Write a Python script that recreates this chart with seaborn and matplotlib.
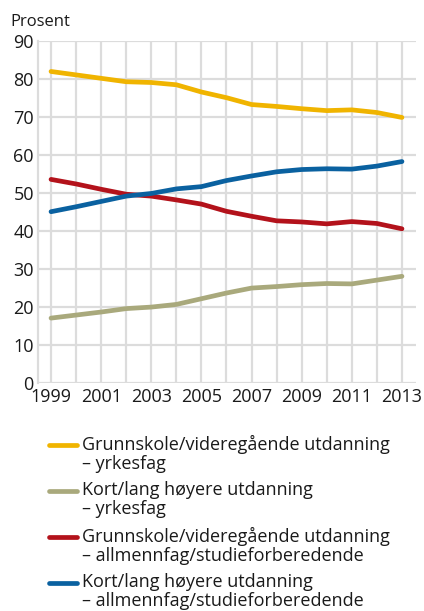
import matplotlib.pyplot as plt
import pandas as pd
import seaborn as sns
from matplotlib.lines import Line2D

years = list(range(1999, 2014))

grunn_yrkesfag = [81.9, 81.0, 80.1, 79.2, 79.0, 78.4, 76.5, 75.0, 73.2, 72.7, 72.1, 71.6, 71.8, 71.1, 69.8]
hoy_yrkesfag = [17.0, 17.8, 18.6, 19.5, 19.9, 20.6, 22.1, 23.6, 24.9, 25.3, 25.8, 26.1, 26.0, 27.0, 28.0]
grunn_allmenn = [53.5, 52.3, 50.9, 49.6, 49.1, 48.1, 47.0, 45.1, 43.8, 42.6, 42.3, 41.8, 42.4, 41.9, 40.5]
hoy_allmenn = [45.0, 46.3, 47.7, 49.1, 49.8, 51.0, 51.6, 53.2, 54.4, 55.5, 56.1, 56.3, 56.2, 57.0, 58.2]

labels = [
    "Grunnskole/videregående utdanning\n– yrkesfag",
    "Kort/lang høyere utdanning\n– yrkesfag",
    "Grunnskole/videregående utdanning\n– allmennfag/studieforberedende",
    "Kort/lang høyere utdanning\n– allmennfag/studieforberedende",
]
colors = ["#f0b400", "#a9a97c", "#b3121b", "#0a61a0"]
series = [grunn_yrkesfag, hoy_yrkesfag, grunn_allmenn, hoy_allmenn]

df = pd.concat(
    [pd.DataFrame({"År": years, "Prosent": s, "Gruppe": lab}) for s, lab in zip(series, labels)]
)

sns.set_style("white")
plt.rcParams["font.family"] = ["Open Sans", "DejaVu Sans"]

fig = plt.figure(figsize=(4.24, 6.11), dpi=100)
ax = fig.add_axes([38 / 424, 1 - 382.7 / 611, (416 - 38) / 424, (382.7 - 40.7) / 611])

sns.lineplot(
    data=df, x="År", y="Prosent", hue="Gruppe", hue_order=labels,
    palette=colors, linewidth=3.4, legend=False, ax=ax,
    solid_capstyle="round", zorder=3,
)

ax.set_xlim(1998.48, 2013.56)
ax.set_ylim(0, 90)
ax.set_xticks(years, minor=True)
ax.set_xticks(range(1999, 2014, 2))
ax.set_yticks(range(0, 91, 10))
ax.grid(True, which="both", color="#dcdcdc", linewidth=1.6)
ax.set_axisbelow(True)
for s in ["top", "right", "bottom"]:
    ax.spines[s].set_visible(False)
ax.spines["left"].set_color("#dcdcdc")
ax.spines["left"].set_linewidth(1.6)
ax.tick_params(which="both", length=0, labelsize=13, colors="#1a1a1a", pad=3)
ax.tick_params(axis="x", pad=4)
ax.set_xlabel("")
ax.set_ylabel("")
fig.text(10 / 424, 1 - 26 / 611, "Prosent", fontsize=12, color="#1a1a1a", va="baseline")

# legend
for i, (lab, col) in enumerate(zip(labels, colors)):
    yc = 1 - (445 + i * 46) / 611
    fig.add_artist(Line2D([49 / 424, 77 / 424], [yc, yc], color=col, linewidth=3.4,
                          solid_capstyle="round", transform=fig.transFigure))
    fig.text(82 / 424, yc + 10 / 611, lab, fontsize=13, color="#1a1a1a",
             va="top", linespacing=1.05)

fig.savefig("out.png", dpi=100)
